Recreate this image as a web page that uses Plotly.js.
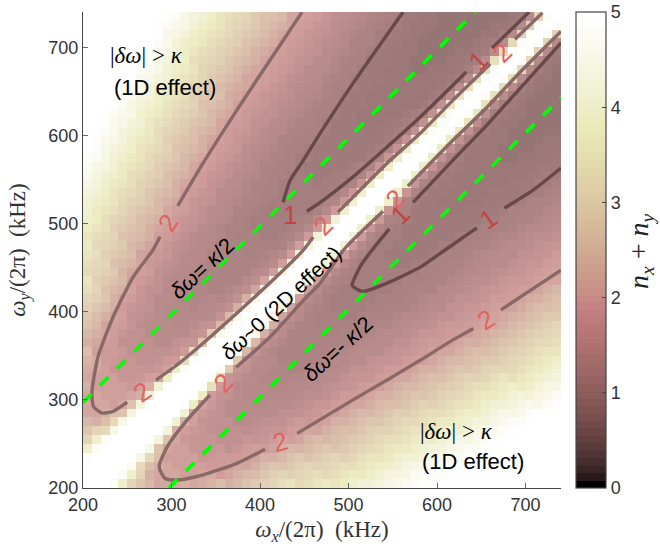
<!DOCTYPE html>
<html><head><meta charset="utf-8">
<script src="https://cdn.plot.ly/plotly-3.0.1.min.js"></script>
<style>html,body{margin:0;padding:0;background:#fff}</style></head>
<body><div id="c" style="width:660px;height:550px"></div>
<script>
// Heat values: one profile per band of four cell-diagonals of (ωx+ωy); index = |ωy-ωx|/10 kHz
const bands=[
[5,5,5,4.8],
[5,5,5,4.7,3.9,3.1,2.7,2.4],
[5,5,5,4.4,3.2,2.5,2.2,2.1,2.05,2.05,2.1,2.2],
[5,5,5,4.2,2.6,2.1,1.95,1.9,1.9,1.9,1.9,1.95,2.05,2.15,2.3,2.5],
[5,5,5,4,2.2,1.9,1.75,1.7,1.7,1.7,1.7,1.75,1.8,1.85,1.95,2.05,2.2,2.4,2.6,2.8],
[5,5,4.9,3.7,2,1.75,1.6,1.55,1.5,1.5,1.5,1.5,1.55,1.65,1.8,1.9,2,2.2,2.45,2.7,2.9,3.1,3.3,3.5],
[5,5,4.8,3.3,1.85,1.6,1.5,1.4,1.4,1.4,1.4,1.4,1.45,1.5,1.6,1.7,1.8,2,2.2,2.4,2.6,2.75,2.9,3.05,3.2,3.35,3.5,3.65],
[5,5,4.7,2.8,1.7,1.5,1.4,1.3,1.3,1.3,1.3,1.3,1.35,1.4,1.5,1.55,1.65,1.8,1.95,2.1,2.3,2.45,2.6,2.75,2.9,3.05,3.2,3.35,3.5,3.7,3.85,4],
[5,5,4.6,2.4,1.6,1.4,1.3,1.25,1.2,1.2,1.2,1.2,1.25,1.3,1.4,1.45,1.55,1.65,1.75,1.9,2,2.2,2.35,2.5,2.65,2.8,2.95,3.1,3.3,3.45,3.6,3.8,4,4.2,4.4,4.6],
[5,5,4.5,2.2,1.5,1.35,1.2,1.15,1.15,1.15,1.15,1.15,1.2,1.25,1.3,1.4,1.45,1.55,1.65,1.8,1.95,2.1,2.25,2.4,2.55,2.7,2.85,3,3.15,3.3,3.5,3.65,3.85,4.05,4.25,4.45,4.65,4.8,4.9,5],
[5,5,4.4,2,1.45,1.25,1.15,1.1,1.1,1.1,1.1,1.1,1.15,1.2,1.25,1.3,1.4,1.5,1.6,1.7,1.85,1.95,2.1,2.25,2.4,2.55,2.7,2.85,3,3.15,3.3,3.45,3.65,3.85,4,4.2,4.4,4.6,4.8,4.9,5],
[5,5,4.3,1.95,1.4,1.2,1.1,1.05,1.05,1.05,1.05,1.05,1.1,1.15,1.2,1.25,1.35,1.4,1.5,1.6,1.7,1.85,1.95,2.1,2.25,2.4,2.55,2.7,2.85,3,3.15,3.3,3.45,3.65,3.8,4,4.2,4.4,4.6,4.75,4.9,5],
[5,5,4.2,1.9,1.35,1.15,1.05,1,1,1,1,1,1.05,1.1,1.15,1.2,1.3,1.35,1.4,1.5,1.6,1.7,1.8,1.95,2.05,2.2,2.35,2.5,2.65,2.8,2.95,3.1,3.25,3.4,3.6,3.8,3.95,4.15,4.35,4.55,4.75,4.9,5],
[5,5,4.1,1.85,1.3,1.1,1.03,1,1,.98,.98,1,1.02,1.05,1.1,1.15,1.2,1.3,1.35,1.45,1.55,1.65,1.75,1.85,1.95,2.1,2.25,2.4,2.55,2.7,2.85,3,3.15,3.3,3.45,3.65,3.8,4,4.2,4.4,4.6,4.8,4.9,5],
[5,5,4,1.8,1.25,1.1,1,1,.97,.95,.95,.97,1,1.02,1.05,1.1,1.15,1.2,1.3,1.35,1.45,1.55,1.65,1.75,1.85,1.95,2.05,2.2,2.35,2.5,2.65,2.8,2.95,3.1,3.3,3.45,3.6,3.8,4,4.2,4.4,4.6,4.8,5],
[5,5,3.9,1.75,1.2,1.05,1,.95,.93,.92,.92,.93,.95,1,1.02,1.05,1.1,1.15,1.25,1.3,1.4,1.5,1.55,1.65,1.75,1.85,1.95,2.05,2.15,2.3,2.45,2.6,2.75,2.9,3.05,3.2,3.35,3.55,3.7,3.9,4.1,4.3,4.5,4.7,4.9,5],
[5,5,3.9,1.7,1.15,1.05,.98,.93,.9,.9,.9,.9,.93,.97,1.02,1.05,1.1,1.15,1.2,1.3,1.35,1.45,1.5,1.6,1.7,1.8,1.9,1.98,2.1,2.25,2.4,2.55,2.7,2.85,3,3.15,3.3,3.45,3.6,3.8,4,4.2,4.4,4.6,4.8,5],
[5,4.9,3.8,1.65,1.12,1,.93,.9,.87,.87,.87,.87,.9,.93,.97,1.02,1.07,1.12,1.18,1.25,1.32,1.4,1.45,1.55,1.65,1.72,1.82,1.92,2.02,2.15,2.3,2.45,2.6,2.75,2.9,3.05,3.2,3.35,3.5,3.7,3.9,4.1,4.3,4.5,4.7,4.85,5],
[5,4.9,3.8,1.6,1.1,.97,.9,.87,.85,.85,.85,.85,.87,.9,.93,.98,1.03,1.08,1.13,1.2,1.27,1.33,1.4,1.5,1.6,1.67,1.77,1.87,1.95,2.05,2.2,2.35,2.5,2.65,2.8],
[5,4.8,3.7,1.55,1.05,.95,.88,.85,.83,.83,.83,.83,.85,.87,.9,.93,.98,1.02,1.08,1.15,1.2,1.27,1.35,1.42,1.5,1.6,1.7,1.8,1.88,1.97,2.08],
[5,4.8,3.6,1.5,1.02,.92,.85,.83,.8,.8,.8,.8,.82,.85,.87,.9,.93,.97,1.03,1.1,1.15,1.22,1.3,1.37,1.45,1.55,1.65],
[5,4.8,3.5,1.45,1,.9,.83,.8,.8,.78,.78,.78,.8,.82,.85,.87,.9,.95,1,1.07,1.12,1.2,1.27],
[5,4.8,3.4,1.4,.98,.88,.82,.8,.78,.77,.77,.77,.78,.8,.83,.85,.88,.93,.97],
[5,4.8,3.3,1.35,.97,.87,.8,.78,.77,.75,.75,.75,.77,.78,.82],
[5,4.8,3.2,1.3,.95,.85,.8,.77,.75,.75,.75],
[5,4.8,3,1.3,.93,.83,.78],
[5,4.8,3]
];
const cells=54;
const zGrid=[];
for(let j=0;j<cells;j++){const row=[];for(let i=0;i<cells;i++){
  const b=bands[Math.floor((i+j)/4)],k=Math.abs(i-j);
  row.push(b[k]===undefined?5:b[k]);}zGrid.push(row);}

// Contour runs (kHz)
const lvl2=[
 [[447.5,411,374,336,307],[740,685,629,569,520]],
 [[287,279,256.5,234,217,210,212,221.5,234,250],[485,470,439,394,349,308,292,285,287,297.5]],
 [[282.5,306,336,374,411,449,460],[322.5,339.5,364.5,398.5,432.5,470,484.6]],
 [[488,505,543.5,581,618,660],[513,530,568.5,602.5,640,681]],
 [[688,719],[709,739]],
 [[373,411,449,468,496,539],[337,371,413,432.5,472,514]],
 [[567,618,656.5,694,740],[542.5,594.6,632,672,718]],
 [[343.5,317.5,295,286,292.5,306,335.6,374,405.7],[305.5,277,246.5,224,211,209,215,228,244]],
 [[442,505,543.5,581,618,641],[262,300,322.5,345,368,381]],
 [[672,702,740],[402,422,447]]
];
const lvl1=[
 [[426,434,449,468,505,561.6],[524,549,572,602.5,659,740]],
 [[453,468,505,543.5,581,633],[514,524,553,587,621,672]],
 [[662,704],[699,740]],
 [[546,526.6,513,504,507,516,543.5,581,609,645],[494,470,451,430,427,423,432.5,450.6,470,495]],
 [[573,618,656.5,694,740],[524,572,612,653.6,705]],
 [[676,708.5,740],[517.5,538,563]]
];
const greenUpper=[[200,643],[297,740]];
const greenLower=[[297,740],[200,643]];
const contourLabels=[
 ['2',168,223,-57],['2',142,392,-35],['2',223,383,-45],['2',280,442,-15],['2',486,320,-32],
 ['2',323,226,-45],['2',395,199,-45],['2',502,53,-45],
 ['1',290,215,0],['1',400,215,-45],['1',478,61,-45],['1',488,219,-35]
];
const tickValues=[200,300,400,500,600,700];

// MATLAB "pink" colormap, 64 steps
function pink(t){const h=[Math.min(1,t/0.365),Math.max(0,Math.min(1,(t-0.365)/0.385)),Math.max(0,(t-0.75)/0.25)];
 return 'rgb('+h.map(v=>Math.round(255*Math.sqrt((2*t+v)/3))).join(',')+')';}
const cs=[];for(let n=0;n<64;n++){const c=pink(n/63);cs.push([n/64,c]);cs.push([(n+1)/64,c]);}

const px2x=p=>200+(p-83)*540/478, py2y=p=>200+(488-p)*540/476;
const traces=[{type:'heatmap',z:zGrid,x0:205,dx:10,y0:205,dy:10,zmin:0,zmax:5,colorscale:cs,opacity:0.78,hoverinfo:'skip',
 colorbar:{x:(576-83)/478,xanchor:'left',xpad:0,ypad:0,y:0.5,yanchor:'middle',len:1,lenmode:'fraction',thickness:30,thicknessmode:'pixels',
  outlinecolor:'#444',outlinewidth:1.2,ticks:'inside',ticklen:4,tickcolor:'#444',tickvals:[0,1,2,3,4,5],
  tickfont:{family:'Liberation Sans',size:18,color:'#333'}}}];
lvl2.forEach(r=>traces.push({type:'scatter',mode:'lines',x:r[0],y:r[1],line:{color:'#8a6868',width:3.4,shape:'spline',smoothing:0.6},hoverinfo:'skip',showlegend:false}));
lvl1.forEach(r=>traces.push({type:'scatter',mode:'lines',x:r[0],y:r[1],line:{color:'#684848',width:3.4,shape:'spline',smoothing:0.6},hoverinfo:'skip',showlegend:false}));
[greenUpper,greenLower].forEach(r=>traces.push({type:'scatter',mode:'lines',x:r[0],y:r[1],line:{color:'#00ff00',width:3.6,dash:'12px,12px'},hoverinfo:'skip',showlegend:false}));

const serif='Liberation Serif',sans='Liberation Sans';
const anns=contourLabels.map(l=>({x:px2x(l[1]),y:py2y(l[2]),xref:'x',yref:'y',text:l[0],showarrow:false,textangle:l[3],xanchor:'center',yanchor:'middle',
 font:{family:sans,size:26,color:l[0]==='2'?'#e06464':'#c24444'}}));
function note(text,px,py,size,fam,angle){anns.push({x:px2x(px),y:py2y(py),xref:'x',yref:'y',text:text,showarrow:false,textangle:angle||0,xanchor:'center',yanchor:'middle',font:{family:fam,size:size,color:'#000'}});}
note('|<i>δω</i>|&nbsp;&gt;&nbsp;<i>κ</i>',146,55,23,serif);
note('(1D effect)',165,87,22,sans);
note('|<i>δω</i>|&nbsp;&gt;&nbsp;<i>κ</i>',456,431,23,serif);
note('(1D effect)',473,461,22,sans);
note('<i>δω</i>= <i>κ</i>/2',202,268,22,sans,-43);
note('<i>δω</i>~0 (2D effect)',280,303,21,sans,-43);
note('<i>δω</i>=-&nbsp;<i>κ</i>/2',337,349,22,sans,-42);
anns.push({xref:'paper',yref:'paper',x:(640-83)/478,y:(488-251)/476,xanchor:'center',yanchor:'middle',text:'<i>n<sub>x</sub></i>&nbsp;+&nbsp;<i>n<sub>y</sub></i>',showarrow:false,textangle:-90,font:{family:serif,size:28,color:'#222'}});

const axis={range:[200,740],tickvals:tickValues,ticks:'inside',ticklen:5,tickcolor:'#666',showline:true,linecolor:'#444',linewidth:1.2,
 showgrid:false,zeroline:false,mirror:false,tickfont:{family:sans,size:18,color:'#333'},automargin:false};
Plotly.newPlot('c',traces,{width:660,height:550,margin:{l:83,r:99,t:12,b:62},paper_bgcolor:'#fff',plot_bgcolor:'#fff',showlegend:false,annotations:anns,
 xaxis:Object.assign({},axis,{title:{text:'<i>ω<sub>x</sub></i>/(2π)&nbsp;&nbsp;(kHz)',font:{family:serif,size:23,color:'#333'},standoff:7}}),
 yaxis:Object.assign({},axis,{title:{text:'<i>ω<sub>y</sub></i>/(2π)&nbsp;&nbsp;(kHz)',font:{family:serif,size:23,color:'#333'},standoff:16}})
},{displayModeBar:false,staticPlot:true});
</script></body></html>
